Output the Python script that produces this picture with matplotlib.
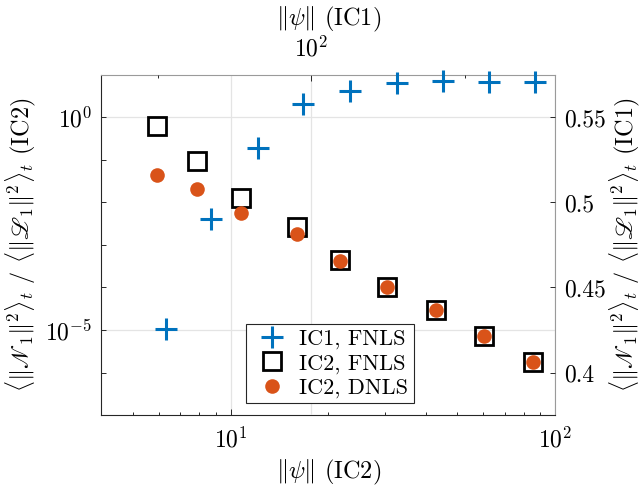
import matplotlib
matplotlib.use('Agg')
import matplotlib.pyplot as plt
from matplotlib.ticker import NullFormatter

plt.rcParams['font.family'] = 'serif'
plt.rcParams['font.serif'] = ['cmr10']
plt.rcParams['mathtext.fontset'] = 'cm'
plt.rcParams['axes.formatter.use_mathtext'] = True

# IC2 (bottom / left axes)
normIC2 = [5.94, 7.87, 10.75, 16.07, 21.8, 30.3, 43.1, 60.5, 85.7]
ratioFNLS2 = [0.635, 0.0955, 0.0125, 2.68e-3, 4.43e-4, 1.05e-4, 2.96e-5, 7.24e-6, 1.80e-6]
ratioDNLS2 = [0.0434, 0.0203, 5.54e-3, 1.81e-3, 4.2e-4, 1.05e-4, 2.96e-5, 7.24e-6, 1.80e-6]

# IC1 (top / right axes)
normIC1 = [51.9, 63.7, 78.6, 96.6, 119.3, 147.1, 181.1, 223.4, 275.0]
ratioFNLS1 = [0.4258, 0.4905, 0.5318, 0.5578, 0.5653, 0.5703, 0.5715, 0.5709, 0.5709]

blue = '#0072BD'
orange = '#D95319'
dark = '#262626'
gridc = '#e4e4e4'
tickfs = 17
labfs = 17.5

fig = plt.figure(figsize=(6.44, 4.93), dpi=100)
pos = [0.1576, 0.1582, 0.7042, 0.6897]
ax = fig.add_axes(pos)
ax2 = fig.add_axes(pos, facecolor='none')

hSq, = ax.plot(normIC2, ratioFNLS2, 's', ms=12.5, mfc='none', mec='k', mew=2.0,
               label='IC2, FNLS', zorder=3)
hCi, = ax.plot(normIC2, ratioDNLS2, 'o', ms=10.5, mfc=orange, mec='none',
               label='IC2, DNLS', zorder=4)
hPl, = ax2.plot(normIC1, ratioFNLS1, '+', ms=16, mew=2.2, color=blue,
                label='IC1, FNLS', clip_on=False, zorder=3)

# bottom / left
ax.set_xscale('log')
ax.set_yscale('log')
ax.set_xlim(4, 100)
ax.set_ylim(1e-7, 10)
ax.set_xticks([10, 100])
ax.set_xticklabels([r'$10^{1}$', r'$10^{2}$'])
ax.set_xticks([4, 5, 6, 7, 8, 9, 20, 30, 40, 50, 60, 70, 80, 90], minor=True)
ax.xaxis.set_minor_formatter(NullFormatter())
ax.set_yticks([1e-5, 1])
ax.set_yticklabels([r'$10^{-5}$', r'$10^{0}$'])
ax.set_yticks([1e-7, 1e-6, 1e-4, 1e-3, 1e-2, 1e-1, 1e1], minor=True)
ax.yaxis.set_minor_formatter(NullFormatter())
ax.tick_params(which='both', direction='in', color=dark, labelsize=tickfs)
ax.tick_params(axis='x', which='major', length=4.5, width=0.7, pad=9)
ax.tick_params(axis='x', which='minor', length=2.3, width=0.7)
ax.tick_params(axis='y', which='both', length=3.5, width=0.7, pad=7)
ax.grid(True, which='major', color=gridc, lw=0.9)
ax.set_axisbelow(True)
for s in ['left', 'bottom']:
    ax.spines[s].set_color(dark)
    ax.spines[s].set_linewidth(0.8)
for s in ['top', 'right']:
    ax.spines[s].set_color('#9a9a9a')
    ax.spines[s].set_linewidth(0.8)
ax.set_xlabel(r'$\|\psi\|$ (IC2)', fontsize=labfs)
ax.xaxis.set_label_coords(0.5, -0.1265)
ax.set_ylabel(r'$\langle\|\mathscr{N}_1\|^2\rangle_t$ / $\langle\|\mathscr{L}_1\|^2\rangle_t$ (IC2)',
              fontsize=labfs)
ax.yaxis.set_label_coords(-0.140, 0.5)

# top / right
ax2.set_xscale('log')
ax2.set_xlim(38.8, 301)
ax2.set_ylim(0.375, 0.575)
ax2.xaxis.tick_top()
ax2.yaxis.tick_right()
ax2.xaxis.set_label_position('top')
ax2.yaxis.set_label_position('right')
ax2.set_xticks([100])
ax2.set_xticklabels([r'$10^{2}$'])
ax2.set_xticks([50, 200], minor=True)
ax2.xaxis.set_minor_formatter(NullFormatter())
ax2.set_yticks([0.4, 0.45, 0.5, 0.55])
ax2.set_yticklabels(['0.4', '0.45', '0.5', '0.55'])
ax2.tick_params(which='both', direction='in', color=dark, labelsize=tickfs)
ax2.tick_params(axis='x', which='major', length=4.5, width=0.7, pad=10)
ax2.tick_params(axis='x', which='minor', length=2.3, width=0.7)
ax2.tick_params(axis='y', length=3.5, width=0.7, pad=6.7)
ax2.grid(True, axis='x', which='major', color=gridc, lw=0.9)
ax2.set_axisbelow(True)
for s in ax2.spines.values():
    s.set_visible(False)
ax2.set_xlabel(r'$\|\psi\|$ (IC1)', fontsize=labfs)
ax2.xaxis.label.set_verticalalignment('bottom')
ax2.xaxis.set_label_coords(0.5, 1.12)
ax2.set_ylabel(r'$\langle\|\mathscr{N}_1\|^2\rangle_t$ / $\langle\|\mathscr{L}_1\|^2\rangle_t$ (IC1)',
               fontsize=labfs)
ax2.yaxis.set_label_coords(1.116, 0.5)

leg = ax2.legend([hPl, hSq, hCi], ['IC1, FNLS', 'IC2, FNLS', 'IC2, DNLS'],
                 loc='lower left', bbox_to_anchor=(0.318, 0.034), borderaxespad=0,
                 fontsize=16, numpoints=1, handlelength=1.9, handletextpad=0.26,
                 borderpad=0.25, labelspacing=0.2, fancybox=False, framealpha=1)
leg.get_frame().set_edgecolor(dark)
leg.get_frame().set_linewidth(0.8)

fig.savefig('out.png', dpi=100)
